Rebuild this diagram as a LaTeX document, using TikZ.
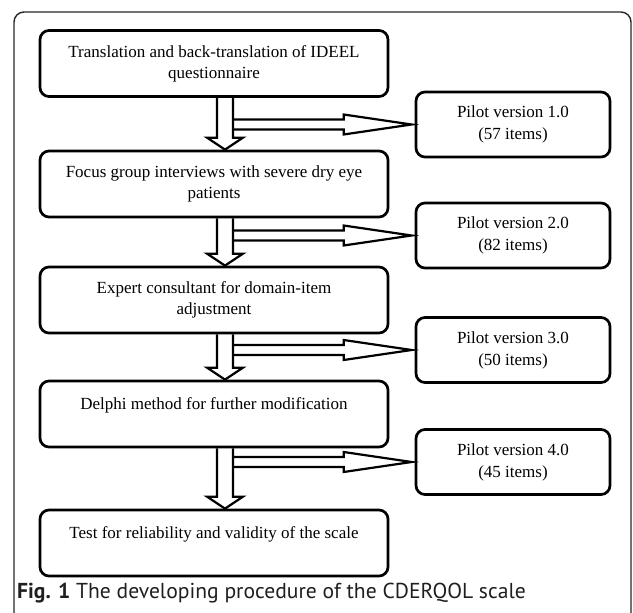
\documentclass[tikz,border=0pt]{standalone}
\usepackage{fontspec}
\setmainfont{Liberation Serif}
\newfontfamily\capfont{PT Sans}
\usetikzlibrary{calc}
\begin{document}
\begin{tikzpicture}[x=1pt,y=-1pt,
  stepbox/.style={draw, line width=2.7pt, rounded corners=9pt, minimum width=348pt, minimum height=66pt, align=center, font=\fontsize{17}{21}\selectfont, inner sep=0pt},
  pilotbox/.style={draw, line width=2.7pt, rounded corners=9pt, minimum width=194pt, minimum height=65pt, align=center, font=\fontsize{17}{22}\selectfont, inner sep=0pt},
  blockarrow/.style={draw, line width=2.2pt, line join=miter, miter limit=20},
  framestyle/.style={line width=1.4pt, rounded corners=10pt, draw=black!85}]
\useasboundingbox (0,0) rectangle (633,613);
\draw[framestyle] (14,660) -- (14,12) -- (631,12) -- (631,660);

\coordinate (spine) at (225,0);
\coordinate (spineR) at (233,0);

\node[stepbox] (b1) at (214,63.5) {Translation and back-translation of IDEEL\\questionnaire};
\node[stepbox] (b2) at (214,184) {Focus group interviews with severe dry eye\\patients};
\node[stepbox] (b3) at (214,300) {Expert consultant for domain-item\\adjustment};
\node[stepbox] (b4) at (214,414) {Delphi method for further modification\\\mbox{}};
\node[stepbox] (b5) at (214,543) {Test for reliability and validity of the scale\\\mbox{}};

\node[pilotbox] (p1) at (513,124.5) {Pilot version 1.0\\(57 items)};
\node[pilotbox] (p2) at (513,235.5) {Pilot version 2.0\\(82 items)};
\node[pilotbox] (p3) at (513,350) {Pilot version 3.0\\(50 items)};
\node[pilotbox] (p4) at (513,462) {Pilot version 4.0\\(45 items)};

\foreach \a/\b/\p in {b1/b2/p1, b2/b3/p2, b3/b4/p3, b4/b5/p4}{
  \draw[blockarrow] ($(\a.south -| spine)+(-8,0)$) -- ($(\b.north -| spine)+(-8,-12)$)
    -- ($(\b.north -| spine)+(-18,-12)$) -- (\b.north -| spine)
    -- ($(\b.north -| spine)+(18,-12)$) -- ($(\b.north -| spine)+(8,-12)$)
    -- ($(\a.south -| spine)+(8,0)$);
  \draw[blockarrow] ($(\p.west -| spineR)+(0,-5)$) -- ($(\p.west)+(-71,-5)$)
    -- ($(\p.west)+(-71,-10)$) -- ($(\p.west)+(-3,0)$)
    -- ($(\p.west)+(-71,10)$) -- ($(\p.west)+(-71,5)$)
    -- ($(\p.west -| spineR)+(0,5)$);
}

\node[anchor=west, inner sep=0pt, text=black!88, font=\capfont\fontsize{21.6}{25}\selectfont] (cap) at (17,593) {\textbf{Fig. 1} The developing procedure of the CDERQOL scale};
\end{tikzpicture}
\end{document}
